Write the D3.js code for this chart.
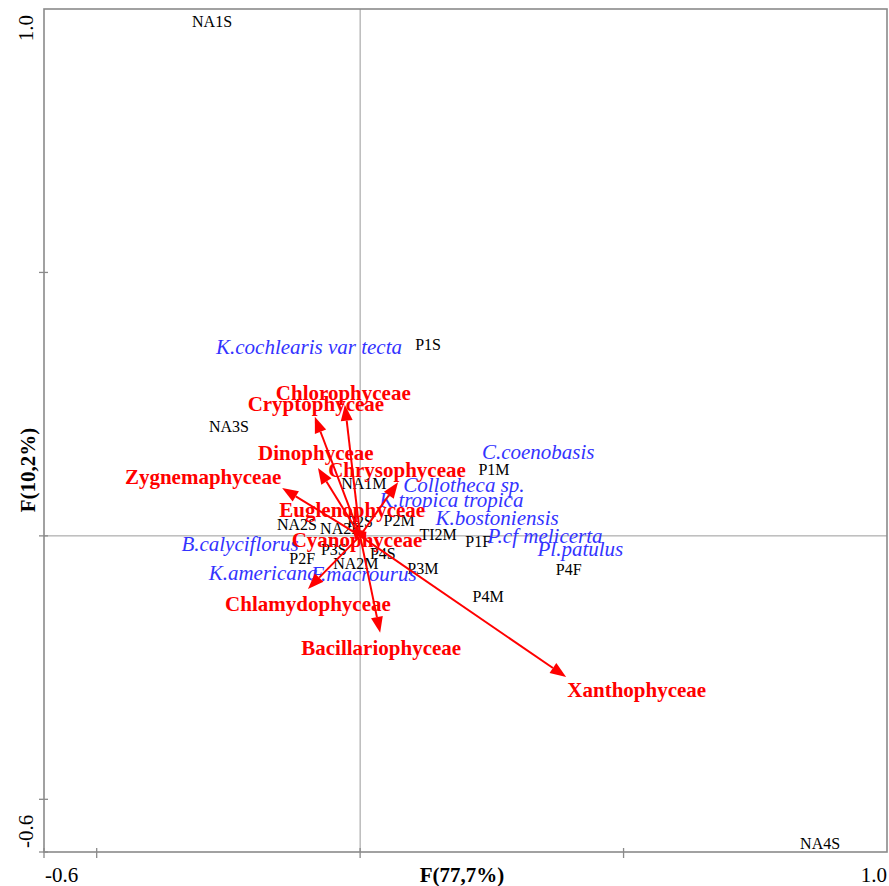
<!DOCTYPE html>
<html><head><meta charset="utf-8">
<script src="https://cdn.jsdelivr.net/npm/d3@7"></script>
<style>body{margin:0;background:#fff}svg{display:block}</style>
</head><body>
<script>
// ---- data ----
const siteNames = ["NA1S","P1S","NA3S","P1M","NA1M","P2S","P2M","NA2S","NA2F","TI2M","P1F","P3S","P4S","P2F","NA2M","P3M","P4F","P4M","NA4S"];
const siteX = [-0.281,0.129,-0.249,0.254,0.007,0.000,0.074,-0.120,-0.038,0.148,0.224,-0.050,0.043,-0.110,-0.008,0.119,0.396,0.243,0.873];
const siteY = [0.976,0.364,0.207,0.127,0.099,0.028,0.030,0.021,0.015,0.002,-0.011,-0.025,-0.034,-0.042,-0.053,-0.061,-0.063,-0.114,-0.583];

const speciesNames = ["K.cochlearis var tecta","C.coenobasis","Collotheca sp.","K.tropica tropica","K.bostoniensis","P.cf melicerta","Pl.patulus","B.calyciflorus","K.americana","F.macrourus"];
const speciesX = [-0.097,0.338,0.197,0.173,0.260,0.351,0.418,-0.228,-0.184,0.007];
const speciesY = [0.359,0.159,0.097,0.068,0.034,0.000,-0.025,-0.015,-0.070,-0.072];

const groupNames = ["Chlorophyceae","Cryptophyceae","Dinophyceae","Chrysophyceae","Zygnemaphyceae","Euglenophyceae","Cyanophyceae","Chlamydophyceae","Bacillariophyceae","Xanthophyceae"];
const groupX = [-0.029,-0.086,-0.080,0.072,-0.148,-0.015,0.012,-0.099,0.038,0.391];
const groupY = [0.249,0.226,0.129,0.102,0.091,0.012,0.008,-0.101,-0.184,-0.268];
const groupLabelX = [-0.032,-0.084,-0.084,0.070,-0.298,-0.015,-0.006,-0.099,0.040,0.525];
const groupLabelY = [0.271,0.251,0.158,0.125,0.112,0.049,-0.008,-0.129,-0.213,-0.292];

const xTitle = "F(77,7%)";
const yTitle = "F(10,2%)";
const axisMin = -0.6, axisMax = 1.0;
const tickVals = [-0.5, 0, 0.5];

// ---- drawing ----
const W = 889, H = 886;
const svg = d3.select("body").append("svg").attr("width", W).attr("height", H)
  .style("font-family", "'Liberation Serif','Times New Roman',serif");

const x = d3.scaleLinear().domain([axisMin, axisMax]).range([44, 887]);
const y = d3.scaleLinear().domain([axisMin, axisMax]).range([852, 9]);
const gray = "#8a8a8a";

// zero lines
svg.append("line").attr("x1", x(0)).attr("x2", x(0)).attr("y1", y(axisMax)).attr("y2", y(axisMin))
  .attr("stroke", "#9a9a9a").attr("stroke-width", 1);
svg.append("line").attr("x1", x(axisMin)).attr("x2", x(axisMax)).attr("y1", y(0)).attr("y2", y(0))
  .attr("stroke", "#9a9a9a").attr("stroke-width", 1);

// frame
svg.append("rect").attr("x", x(axisMin)).attr("y", y(axisMax))
  .attr("width", x(axisMax) - x(axisMin)).attr("height", y(axisMin) - y(axisMax))
  .attr("fill", "none").attr("stroke", gray).attr("stroke-width", 1.6);

// ticks
const tickAll = [axisMin].concat(tickVals);
svg.selectAll(".xt").data(tickAll).join("line")
  .attr("x1", d => x(d)).attr("x2", d => x(d)).attr("y1", y(axisMin) - 4).attr("y2", y(axisMin) + 6)
  .attr("stroke", gray).attr("stroke-width", 1.3);
svg.selectAll(".yt").data(tickAll).join("line")
  .attr("y1", d => y(d)).attr("y2", d => y(d)).attr("x1", x(axisMin) - 5).attr("x2", x(axisMin) + 4)
  .attr("stroke", gray).attr("stroke-width", 1.3);

// tick labels (plain hyphen minus)
const fmt = v => d3.format(".1f")(v).replace("\u2212", "-");
svg.append("text").attr("x", x(axisMin) + 1).attr("y", 882).attr("font-size", 21).text(fmt(axisMin));
svg.append("text").attr("x", x(axisMax)).attr("y", 882).attr("text-anchor", "end").attr("font-size", 21).text(fmt(axisMax));
svg.append("text").attr("transform", `translate(33,${y(axisMax) + 6}) rotate(-90)`).attr("text-anchor", "end").attr("font-size", 21).text(fmt(axisMax));
svg.append("text").attr("transform", `translate(33,${y(axisMin) - 4}) rotate(-90)`).attr("text-anchor", "start").attr("font-size", 21).text(fmt(axisMin));

// axis titles
svg.append("text").attr("x", 462).attr("y", 882).attr("text-anchor", "middle").attr("font-size", 21).attr("font-weight", "bold").text(xTitle);
svg.append("text").attr("transform", `translate(35,470) rotate(-90)`).attr("text-anchor", "middle").attr("font-size", 21).attr("font-weight", "bold").text(yTitle);

// sites
svg.selectAll(".site").data(siteNames).join("text")
  .attr("x", (d, i) => x(siteX[i])).attr("y", (d, i) => y(siteY[i])).attr("dy", "0.35em")
  .attr("text-anchor", "middle").attr("font-size", 16).attr("fill", "#000").text(d => d);

// species
svg.selectAll(".sp").data(speciesNames).join("text")
  .attr("x", (d, i) => x(speciesX[i])).attr("y", (d, i) => y(speciesY[i])).attr("dy", "0.35em")
  .attr("text-anchor", "middle").attr("font-size", 21).attr("font-style", "italic").attr("fill", "#3333ff").text(d => d);

// arrows
const red = "#ff0000";
const gA = svg.append("g");
groupNames.forEach((n, i) => {
  const x0 = x(0), y0 = y(0), x1 = x(groupX[i]), y1 = y(groupY[i]);
  const dx = x1 - x0, dy = y1 - y0, len = Math.hypot(dx, dy);
  const ux = dx / len, uy = dy / len;
  const hl = Math.min(16, len * 0.9), hw = 6;
  const bx = x1 - ux * hl, by = y1 - uy * hl;
  gA.append("line").attr("x1", x0).attr("y1", y0).attr("x2", bx).attr("y2", by)
    .attr("stroke", red).attr("stroke-width", 2);
  gA.append("path").attr("d", `M${x1},${y1}L${bx - uy * hw},${by + ux * hw}L${bx + uy * hw},${by - ux * hw}Z`)
    .attr("fill", red);
});
svg.selectAll(".gl").data(groupNames).join("text")
  .attr("x", (d, i) => x(groupLabelX[i])).attr("y", (d, i) => y(groupLabelY[i])).attr("dy", "0.35em")
  .attr("text-anchor", "middle").attr("font-size", 21).attr("font-weight", "bold").attr("fill", red).text(d => d);
</script>
</body></html>
